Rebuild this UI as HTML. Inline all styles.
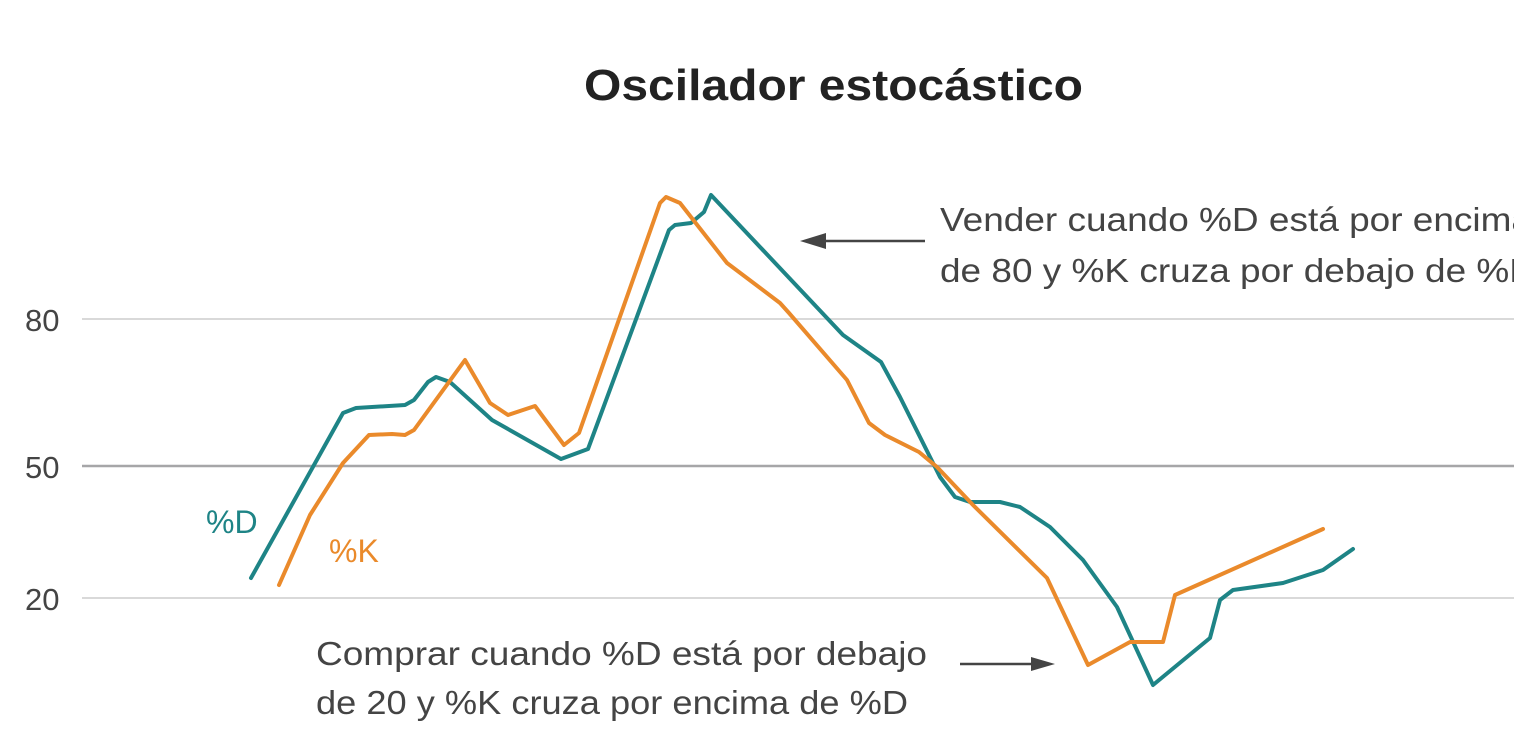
<!DOCTYPE html>
<html><head><meta charset="utf-8"><style>
html,body{margin:0;padding:0;background:#fff;}
svg{display:block;font-family:"Liberation Sans",sans-serif;}
</style></head><body>
<svg width="1514" height="736" viewBox="0 0 1514 736">
<text x="584" y="100" font-size="44" font-weight="bold" fill="#222" textLength="499" lengthAdjust="spacingAndGlyphs">Oscilador estocástico</text>
<line x1="82" y1="319" x2="1514" y2="319" stroke="#d9d9d9" stroke-width="2"/>
<line x1="82" y1="466" x2="1514" y2="466" stroke="#a6a6a8" stroke-width="2.5"/>
<line x1="82" y1="598" x2="1514" y2="598" stroke="#d9d9d9" stroke-width="2"/>
<g font-size="31" fill="#444">
<text x="25" y="331">80</text>
<text x="25" y="478">50</text>
<text x="25" y="610">20</text>
</g>
<polyline fill="none" stroke="#1e8486" stroke-width="4" stroke-linejoin="round" stroke-linecap="round" points="251,578 343,413 356,408 405,405 414,400 428,382 436,377 450,382 492,420 561,459 588,449 669,230 675,225 691,223 704,212 711,195 843,335 881,362 900,397 940,477 955,497 970,502 1000,502 1020,507 1050,527 1083,560 1117,607 1153,685 1210,638 1220,600 1233,590 1283,583 1323,570 1353,549"/>
<polyline fill="none" stroke="#ea8a2b" stroke-width="4" stroke-linejoin="round" stroke-linecap="round" points="279,585 310,515 343,463 369,435 392,434 405,435 414,430 465,360 490,403 508,415 535,406 564,445 579,433 660,203 666,197 680,203 727,263 780,303 789,313 847,380 869,423 885,435 919,452 937,467 973,505 1047,578 1088,665 1130,642 1163,642 1175,595 1323,529"/>
<text x="206" y="533" font-size="32" fill="#1e8486">%D</text>
<text x="329" y="562" font-size="32" fill="#ea8a2b">%K</text>
<g font-size="33" fill="#444" lengthAdjust="spacingAndGlyphs">
<text x="940" y="231" textLength="592" lengthAdjust="spacingAndGlyphs">Vender cuando %D está por encima</text>
<text x="940" y="282" textLength="596" lengthAdjust="spacingAndGlyphs">de 80 y %K cruza por debajo de %D</text>
<text x="316" y="665" textLength="611" lengthAdjust="spacingAndGlyphs">Comprar cuando %D está por debajo</text>
<text x="316" y="714" textLength="592" lengthAdjust="spacingAndGlyphs">de 20 y %K cruza por encima de %D</text>
</g>
<line x1="925" y1="241" x2="820" y2="241" stroke="#444" stroke-width="2.5"/>
<polygon points="800,241 826,233 826,249" fill="#444"/>
<line x1="960" y1="664" x2="1035" y2="664" stroke="#444" stroke-width="2.5"/>
<polygon points="1055,664 1031,657 1031,671" fill="#444"/>
</svg>
</body></html>
